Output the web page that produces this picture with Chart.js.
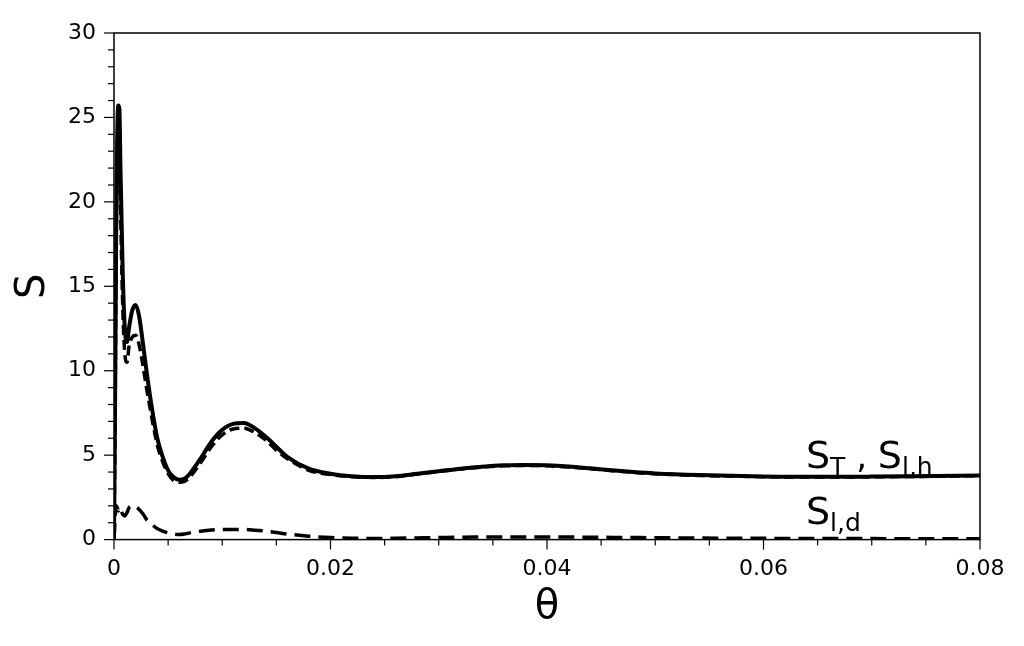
<!DOCTYPE html>
<html><head><meta charset="utf-8">
<script src="https://cdn.jsdelivr.net/npm/chart.js@4"></script>
<style>html,body{margin:0;background:#fff}#w{width:1024px;height:646px}</style>
</head><body><div id="w"><canvas id="c"></canvas></div>
<script>
const theta=[0,0.0001,0.0002,0.0003,0.0004,0.0005,0.0006,0.0008,0.001,0.0012,0.0014,0.0017,0.002,0.0023,0.0027,0.003,0.0035,0.004,0.0045,0.005,0.0055,0.006,0.0065,0.007,0.008,0.009,0.010,0.011,0.012,0.013,0.014,0.015,0.016,0.018,0.020,0.022,0.024,0.026,0.028,0.030,0.032,0.034,0.036,0.038,0.040,0.042,0.044,0.046,0.048,0.050,0.054,0.058,0.062,0.066,0.070,0.074,0.080];
const sT=[0,8,18,24,25.7,25.5,22,16,12.5,11.7,12.6,13.6,13.9,13.3,11.5,10,7.8,6,4.9,4.1,3.7,3.55,3.6,3.9,4.8,5.8,6.5,6.85,6.9,6.6,6.1,5.5,4.9,4.2,3.9,3.75,3.7,3.75,3.9,4.05,4.2,4.32,4.4,4.42,4.4,4.33,4.22,4.1,4.0,3.92,3.82,3.76,3.72,3.72,3.73,3.75,3.8];
const sLh=[0,7,17,23,25,24.5,20,14,11,10.5,11.5,12,12.1,11.6,10.2,9,7.2,5.6,4.6,3.9,3.5,3.4,3.45,3.7,4.55,5.5,6.2,6.55,6.6,6.35,5.9,5.3,4.8,4.1,3.85,3.72,3.68,3.73,3.88,4.03,4.18,4.3,4.37,4.39,4.37,4.3,4.2,4.08,3.98,3.9,3.8,3.75,3.71,3.71,3.72,3.74,3.79];
const sLd=[0,1.2,2.0,1.9,1.7,1.9,1.8,1.5,1.4,1.6,1.9,2.0,1.95,1.8,1.5,1.2,0.9,0.65,0.5,0.4,0.33,0.3,0.33,0.4,0.5,0.57,0.6,0.6,0.6,0.56,0.5,0.42,0.33,0.2,0.12,0.08,0.07,0.08,0.1,0.12,0.14,0.15,0.16,0.16,0.16,0.15,0.14,0.13,0.12,0.11,0.09,0.08,0.07,0.06,0.06,0.05,0.05];
const xTicks=[0,0.02,0.04,0.06,0.08];
const xLabels=['0','0.02','0.04','0.06','0.08'];
const pts=a=>a.map((v,i)=>({x:theta[i],y:v}));
const F='"DejaVu Sans", sans-serif';
const deco={id:'deco',afterDraw(ch){
 const c=ch.ctx,a=ch.chartArea,xs=ch.scales.x,ys=ch.scales.y;
 c.save();c.strokeStyle='#000';c.lineWidth=1.5;c.strokeRect(a.left,a.top,a.right-a.left,a.bottom-a.top);
 c.lineWidth=1.2;
 for(let v=0;v<=30;v++){const p=ys.getPixelForValue(v);const L=v%5===0?10:6;c.beginPath();c.moveTo(a.left-L,p);c.lineTo(a.left,p);c.stroke();}
 for(let v=0;v<=0.0801;v+=0.005){const p=xs.getPixelForValue(v);const L=Math.abs(v/0.02-Math.round(v/0.02))<1e-6?10:6;c.beginPath();c.moveTo(p,a.bottom);c.lineTo(p,a.bottom+L);c.stroke();}
 c.fillStyle='#000';c.textBaseline='alphabetic';c.textAlign='left';
 function sub(x,y,main,s){c.font='38px '+F;c.fillText(main,x,y);x+=c.measureText(main).width;c.font='25px '+F;c.fillText(s,x,y+7);return x+c.measureText(s).width;}
 let x=sub(806,468,'S','T');c.font='34px '+F;c.fillText(' , ',x,468);x+=c.measureText(' , ').width;sub(x,468,'S','l,h');
 sub(806,524,'S','l,d');
 c.restore();}};
new Chart(document.getElementById('c'),{type:'line',
 data:{datasets:[
  {data:pts(sT),borderColor:'#000',borderWidth:4,pointRadius:0,cubicInterpolationMode:'monotone'},
  {data:pts(sLh),borderColor:'#000',borderWidth:3.5,borderDash:[10,5],pointRadius:0,cubicInterpolationMode:'monotone'},
  {data:pts(sLd),borderColor:'#000',borderWidth:3.5,borderDash:[16,8],pointRadius:0,cubicInterpolationMode:'monotone'}]},
 options:{animation:false,responsive:true,maintainAspectRatio:false,
  layout:{padding:{top:33,right:44,left:6,bottom:14}},
  plugins:{legend:{display:false},tooltip:{enabled:false}},
  scales:{
   x:{type:'linear',min:0,max:0.08,border:{display:false},grid:{display:false},
      afterBuildTicks:s=>{s.ticks=xTicks.map(v=>({value:v}));},
      ticks:{color:'#000',font:{size:22,family:F},padding:8,maxRotation:0,callback:(v)=>xLabels[xTicks.indexOf(v)]??''},
      title:{display:true,text:'θ',color:'#000',font:{size:40,family:F},padding:{top:-6,bottom:0}}},
   y:{min:0,max:30,border:{display:false},grid:{display:false},
      ticks:{stepSize:5,color:'#000',font:{size:22,family:F},padding:10},
      title:{display:true,text:'S',color:'#000',font:{size:40,family:F},padding:{bottom:0}}}}},
 plugins:[deco]});
</script></body></html>
